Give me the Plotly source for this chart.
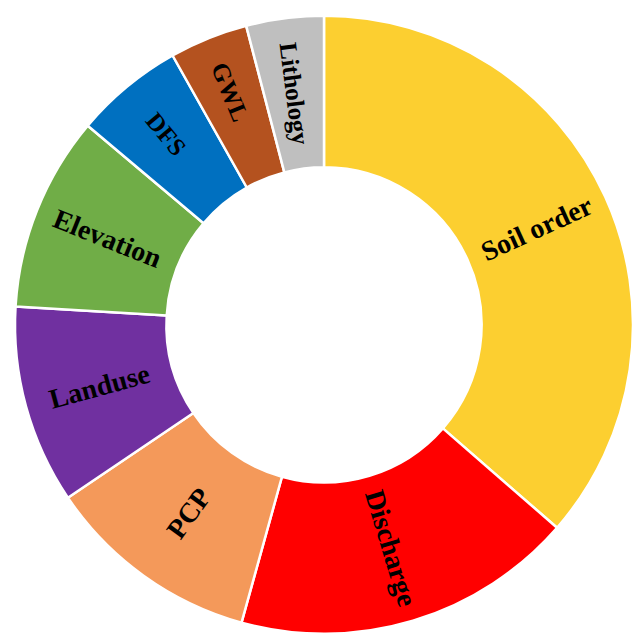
import math
import plotly.graph_objects as go

labels = ["Soil order", "Discharge", "PCP", "Landuse", "Elevation", "DFS", "GWL", "Lithology"]
values = [36.4, 17.9, 11.25, 10.4, 10.2, 5.7, 4.1, 4.05]
colors = ["#FCCF30", "#FF0000", "#F4995A", "#7030A0", "#70AD47", "#0070C0", "#B4521F", "#BFBFBF"]
font_sizes = [28, 28, 28, 28, 28, 25, 25, 25]

W, H = 633, 637
HOLE = 0.51
DOM_X = [0.0237, 1.0]
DOM_Y = [0.0, 0.98]

# Plotly places the text of a slice crossing 3 o'clock horizontally; the
# reference keeps it radial, so that one label is drawn as an annotation.
annot_label = "Soil order"
slice_text = ["" if l == annot_label else l for l in labels]

fig = go.Figure(go.Pie(
    labels=labels,
    values=values,
    text=slice_text,
    sort=False,
    direction="clockwise",
    rotation=0,
    hole=HOLE,
    marker=dict(colors=colors, line=dict(color="white", width=2.5)),
    textinfo="text",
    textposition="inside",
    insidetextorientation="radial",
    insidetextfont=dict(family="Liberation Serif", size=font_sizes, color="black", weight="bold"),
    showlegend=False,
    domain=dict(x=DOM_X, y=DOM_Y),
))

# geometry of the pie in paper coordinates
wpx = (DOM_X[1] - DOM_X[0]) * W
hpx = (DOM_Y[1] - DOM_Y[0]) * H
r = min(wpx, hpx) / 2
cx = DOM_X[0] * W + wpx / 2
cy = DOM_Y[0] * H + hpx / 2
rmid = r * (1 + HOLE) / 2

total = sum(values)
idx = labels.index(annot_label)
start = sum(values[:idx]) / total * 360
mid = start + values[idx] / total * 360 / 2  # degrees clockwise from top
theta = math.radians(mid)
ax = cx + rmid * math.sin(theta)
ay = cy + rmid * math.cos(theta)
tangle = mid - 90 if mid < 180 else mid - 270

fig.add_annotation(
    x=ax / W, y=ay / H, xref="paper", yref="paper",
    text=annot_label, showarrow=False, textangle=tangle,
    font=dict(family="Liberation Serif", size=font_sizes[idx], color="black", weight="bold"),
    xanchor="center", yanchor="middle",
)

fig.update_layout(
    width=W, height=H,
    margin=dict(l=0, r=0, t=0, b=0),
    paper_bgcolor="white",
    plot_bgcolor="white",
)

fig.write_html("out.html")
